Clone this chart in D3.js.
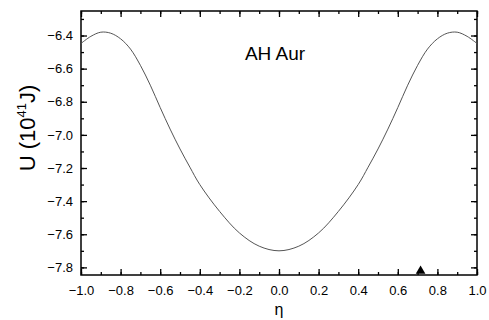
<html>
<head>
<script src="https://d3js.org/d3.v7.min.js"></script>
</head>
<style>
body{margin:0;background:#fff;}
text{font-family:"Liberation Sans",Arial,sans-serif;}
</style>
<body>
<script>

var width = 489;
var height = 320;
var margin = {top:11, right:12, bottom:45, left:81};
var w = width - margin.left - margin.right;
var h = height - margin.top - margin.bottom;

// curve values (symmetric in eta)
var etaHalf = [0.0, 0.1, 0.2, 0.3, 0.4, 0.45, 0.5, 0.55, 0.6, 0.65, 0.7, 0.75, 0.8, 0.85, 0.9, 0.95, 1.0];
var uHalf   = [-7.700, -7.672, -7.592, -7.462, -7.300, -7.195, -7.085, -6.965, -6.835, -6.700, -6.580, -6.482, -6.420, -6.386, -6.380, -6.405, -6.448];
var xTicks = [-1.0, -0.8, -0.6, -0.4, -0.2, 0.0, 0.2, 0.4, 0.6, 0.8, 1.0];
var yTicks = [-6.4, -6.6, -6.8, -7.0, -7.2, -7.4, -7.6, -7.8];
var markerEta = [0.715];

var data = [];
for (var i = etaHalf.length - 1; i > 0; i--) data.push({eta: -etaHalf[i], u: uHalf[i]});
for (var i = 0; i < etaHalf.length; i++) data.push({eta: etaHalf[i], u: uHalf[i]});

var x = d3.scaleLinear().domain([-1, 1]).range([0, w]);
var y = d3.scaleLinear().domain([-7.846, -6.252]).range([h, 0]);

var svg = d3.select("body").append("svg")
    .attr("width", width)
    .attr("height", height)
    .append("g")
    .attr("transform", "translate(" + margin.left + "," + margin.top + ")");

var xMinor = d3.range(-10, 11).map(function(d){ return d / 10; });
var yMinor = d3.range(-78, -62).map(function(d){ return d / 10; });

function styleAxis(g){
  g.select(".domain").remove();
  g.selectAll("line").attr("stroke", "#000").attr("stroke-width", 1.3);
  g.selectAll("text").attr("font-size", 13).attr("fill", "#000");
}

// minor ticks
svg.append("g").attr("transform", "translate(0," + h + ")")
  .call(d3.axisBottom(x).tickValues(xMinor).tickSize(-3).tickFormat("")).call(styleAxis);
svg.append("g")
  .call(d3.axisTop(x).tickValues(xMinor).tickSize(-3).tickFormat("")).call(styleAxis);
svg.append("g")
  .call(d3.axisLeft(y).tickValues(yMinor).tickSize(-3).tickFormat("")).call(styleAxis);
svg.append("g").attr("transform", "translate(" + w + ",0)")
  .call(d3.axisRight(y).tickValues(yMinor).tickSize(-3).tickFormat("")).call(styleAxis);

// major ticks
svg.append("g").attr("transform", "translate(0," + h + ")")
  .call(d3.axisBottom(x).tickValues(xTicks).tickSize(-6).tickPadding(11).tickFormat(d3.format(".1f")))
  .call(styleAxis);
svg.append("g")
  .call(d3.axisTop(x).tickValues(xTicks).tickSize(-6).tickFormat("")).call(styleAxis);
svg.append("g")
  .call(d3.axisLeft(y).tickValues(yTicks).tickSize(-6).tickPadding(8).tickFormat(d3.format(".1f")))
  .call(styleAxis);
svg.append("g").attr("transform", "translate(" + w + ",0)")
  .call(d3.axisRight(y).tickValues(yTicks).tickSize(-6).tickFormat("")).call(styleAxis);

// frame
svg.append("rect")
  .attr("width", w).attr("height", h)
  .attr("fill", "none").attr("stroke", "#000").attr("stroke-width", 1.5);

// curve
var line = d3.line()
  .x(function(d){ return x(d.eta); })
  .y(function(d){ return y(d.u); })
  .curve(d3.curveCatmullRom.alpha(0.5));

svg.append("path")
  .datum(data)
  .attr("d", line)
  .attr("fill", "none")
  .attr("stroke", "#555")
  .attr("stroke-width", 1);

// marker
svg.selectAll(".marker")
  .data(markerEta)
  .enter().append("path")
  .attr("class", "marker")
  .attr("transform", function(d){ return "translate(" + x(d) + "," + (h - 4) + ")"; })
  .attr("d", d3.symbol().type(d3.symbolTriangle).size(40))
  .attr("fill", "#000");

// labels
svg.append("text")
  .attr("x", 194).attr("y", 49)
  .attr("text-anchor", "middle")
  .attr("font-size", 19)
  .text("AH Aur");

svg.append("text")
  .attr("x", x(0)).attr("y", h + 40)
  .attr("text-anchor", "middle")
  .attr("font-size", 16)
  .text("η");

var yl = svg.append("text")
  .attr("transform", "translate(" + (-46) + "," + 117 + ") rotate(-90)")
  .attr("text-anchor", "middle")
  .attr("font-size", 22);
yl.append("tspan").text("U (10");
yl.append("tspan").attr("font-size", 13).attr("dy", -9).text("41");
yl.append("tspan").attr("dy", 9).text("J)");

</script>
</body>
</html>
